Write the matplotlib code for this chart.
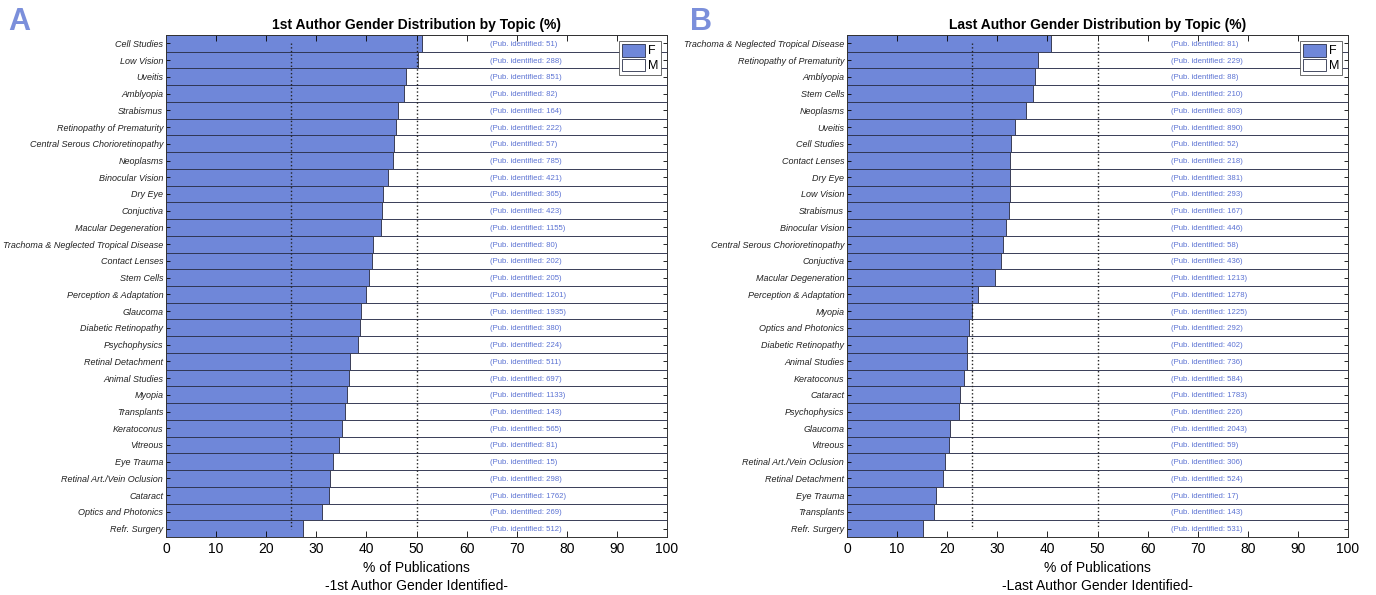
import numpy as np
import matplotlib.pyplot as plt

plt.rcParams["font.family"] = ["Liberation Sans", "DejaVu Sans"]

# Panel A: first author
topics_first = [
    "Cell Studies", "Low Vision", "Uveitis", "Amblyopia", "Strabismus",
    "Retinopathy of Prematurity", "Central Serous Chorioretinopathy", "Neoplasms",
    "Binocular Vision", "Dry Eye", "Conjuctiva", "Macular Degeneration",
    "Trachoma & Neglected Tropical Disease", "Contact Lenses", "Stem Cells",
    "Perception & Adaptation", "Glaucoma", "Diabetic Retinopathy", "Psychophysics",
    "Retinal Detachment", "Animal Studies", "Myopia", "Transplants", "Keratoconus",
    "Vitreous", "Eye Trauma", "Retinal Art./Vein Oclusion", "Cataract",
    "Optics and Photonics", "Refr. Surgery",
]
female_first = [
    51.1, 50.2, 47.9, 47.5, 46.3, 46.0, 45.6, 45.3, 44.3, 43.3, 43.1, 42.9,
    41.3, 41.1, 40.5, 39.9, 39.0, 38.7, 38.4, 36.8, 36.6, 36.1, 35.8, 35.2,
    34.5, 33.3, 32.8, 32.5, 31.2, 27.4,
]
pubs_first = [
    51, 288, 851, 82, 164, 222, 57, 785, 421, 365, 423, 1155, 80, 202, 205,
    1201, 1935, 380, 224, 511, 697, 1133, 143, 565, 81, 15, 298, 1762, 269, 512,
]

# Panel B: last author
topics_last = [
    "Trachoma & Neglected Tropical Disease", "Retinopathy of Prematurity",
    "Amblyopia", "Stem Cells", "Neoplasms", "Uveitis", "Cell Studies",
    "Contact Lenses", "Dry Eye", "Low Vision", "Strabismus", "Binocular Vision",
    "Central Serous Chorioretinopathy", "Conjuctiva", "Macular Degeneration",
    "Perception & Adaptation", "Myopia", "Optics and Photonics",
    "Diabetic Retinopathy", "Animal Studies", "Keratoconus", "Cataract",
    "Psychophysics", "Glaucoma", "Vitreous", "Retinal Art./Vein Oclusion",
    "Retinal Detachment", "Eye Trauma", "Transplants", "Refr. Surgery",
]
female_last = [
    40.7, 38.1, 37.5, 37.2, 35.8, 33.6, 32.7, 32.6, 32.6, 32.5, 32.3, 31.8,
    31.2, 30.7, 29.6, 26.2, 25.0, 24.3, 24.0, 23.9, 23.3, 22.6, 22.4, 20.6,
    20.4, 19.6, 19.1, 17.7, 17.4, 15.2,
]
pubs_last = [
    81, 229, 88, 210, 803, 890, 52, 218, 381, 293, 167, 446, 58, 436, 1213,
    1278, 1225, 292, 402, 736, 584, 1783, 226, 2043, 59, 306, 524, 17, 143, 531,
]

F_COLOR = "#6f87d9"
EDGE = "#2a2f4a"
TEXT_BLUE = "#5b72d3"


def draw_panel(ax, topics, female, pubs, title, who):
    female = np.array(female)
    male = 100 - female
    y = np.arange(len(topics))

    ax.barh(y, female, height=1, color=F_COLOR, edgecolor=EDGE, linewidth=0.6, label="F")
    ax.barh(y, male, left=female, height=1, color="white", edgecolor=EDGE,
            linewidth=0.6, label="M")

    # reference lines at 25% and 50%
    for xv in (25, 50):
        ax.plot([xv, xv], [y[0], y[-1]], color="#222222", linestyle=":", linewidth=1.0, zorder=5)

    for yi, n in zip(y, pubs):
        ax.text(64.7, yi, "(Pub. identified: %d)" % n, fontsize=5.6, color=TEXT_BLUE,
                va="center_baseline", ha="left")

    ax.set_xlim(0, 100)
    ax.set_ylim(len(topics) - 0.5, -0.5)
    ax.set_yticks(y)
    ax.set_yticklabels(topics, fontsize=6.5, style="italic", color="#222222")
    ax.set_xticks(np.arange(0, 101, 10))
    ax.tick_params(axis="x", labelsize=10, direction="in", top=True, length=4, width=0.6)
    ax.tick_params(axis="y", direction="in", right=True, length=3, width=0.6, pad=2)
    ax.set_xlabel("% of Publications\n-" + who + " Author Gender Identified-", fontsize=10,
                  linespacing=1.3)
    ax.set_title(title, fontsize=10, fontweight="bold", pad=4)
    for s in ax.spines.values():
        s.set_linewidth(0.7)
        s.set_color("#333333")

    leg = ax.legend(loc="upper right", fontsize=9, handlelength=1.9, handleheight=1.2,
                    borderpad=0.2, labelspacing=0.1, handletextpad=0.2,
                    borderaxespad=0.5, fancybox=False, framealpha=1)
    leg.get_frame().set_edgecolor("#555555")
    leg.get_frame().set_linewidth(0.6)


fig = plt.figure(figsize=(13.76, 5.95), dpi=100)
ax1 = fig.add_axes([166 / 1376, 1 - 537 / 595, 501 / 1376, 502 / 595])
ax2 = fig.add_axes([847 / 1376, 1 - 537 / 595, 501 / 1376, 502 / 595])

draw_panel(ax1, topics_first, female_first, pubs_first,
           "1st Author Gender Distribution by Topic (%)", "1st")
draw_panel(ax2, topics_last, female_last, pubs_last,
           "Last Author Gender Distribution by Topic (%)", "Last")

fig.text(8 / 1376, 1 - 30 / 595, "A", fontsize=22, fontweight="bold", color="#7b8fdb")
fig.text(690 / 1376, 1 - 30 / 595, "B", fontsize=22, fontweight="bold", color="#7b8fdb")

fig.savefig("out.png", dpi=100)
